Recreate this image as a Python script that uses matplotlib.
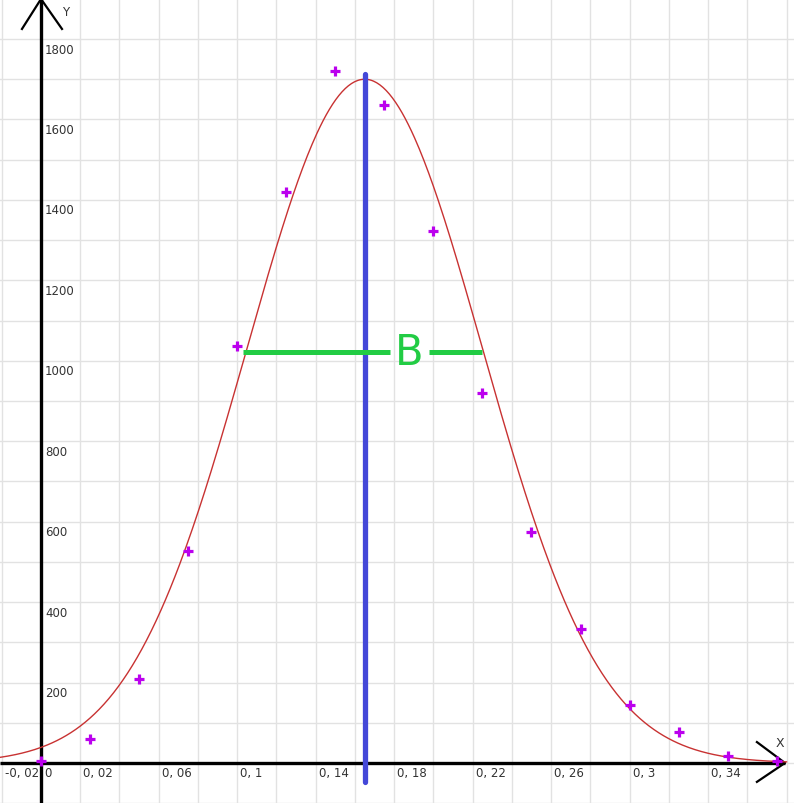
import numpy as np
import matplotlib
matplotlib.use("Agg")
import matplotlib.pyplot as plt
import matplotlib.transforms as mtransforms

# ---- data ----
x_points = [0.0, 0.025, 0.05, 0.075, 0.1, 0.125, 0.15, 0.175, 0.2, 0.225,
            0.25, 0.275, 0.3, 0.325, 0.35, 0.375]
y_points = [5, 60, 209, 526, 1037, 1419, 1720, 1636, 1323, 919,
            574, 333, 144, 76, 18, 6]

# fitted gaussian curve parameters
amp = 1700
mu = 0.165
sigma = 0.060

# width marker "B"
b_level = 1022
b_left = 0.103
b_right = 0.2248
b_gap = (0.178, 0.1978)
b_label = "B"

# center line
center_x = 0.165
center_top = 1712
center_bottom = -47

x_tick_values = [-0.02, 0.0, 0.02, 0.06, 0.1, 0.14, 0.18, 0.22, 0.26, 0.3, 0.34]
x_tick_labels = ["-0, 02", "0", "0, 02", "0, 06", "0, 1", "0, 14", "0, 18",
                 "0, 22", "0, 26", "0, 3", "0, 34"]
y_tick_values = [200, 400, 600, 800, 1000, 1200, 1400, 1600, 1800]
y_tick_labels = ["200", "400", "600", "800", "1000", "1200", "1400", "1600", "1800"]

xlim = (-0.0209, 0.3838)
ylim = (-99.5, 1899.5)

fig = plt.figure(figsize=(7.94, 8.04), dpi=100)
ax = fig.add_axes([0, 0, 1, 1])
ax.set_xlim(*xlim)
ax.set_ylim(*ylim)
ax.axis("off")

# grid
for gx in np.arange(-0.02, 0.39, 0.02):
    ax.axvline(gx, color="#e2e2e2", lw=1.0, zorder=0)
for gy in np.arange(-100, 1901, 100):
    ax.axhline(gy, color="#e2e2e2", lw=1.0, zorder=0)

# axes lines
ax.plot([xlim[0], 0.3792], [0, 0], color="black", lw=2.4, zorder=3, solid_capstyle="butt")
ax.plot([0, 0], [ylim[0], ylim[1]], color="black", lw=2.4, zorder=3)
# arrowheads
ax.plot([-0.0097, 0, 0.0107], [1825, ylim[1], 1825], color="black", lw=1.6, zorder=3)
ax.plot([0.3649, 0.3792, 0.3649], [52, 0, -47], color="black", lw=1.6, zorder=3)
ax.text(0.0105, 1868, "Y", fontsize=8.5, color="#333333", ha="left", va="center")
ax.text(0.3745, 52, "X", fontsize=9, color="#333333", ha="left", va="center")

# tick labels
xoff = mtransforms.offset_copy(ax.transData, fig=fig, x=3, y=-10, units="dots")
for v, lab in zip(x_tick_values, x_tick_labels):
    ax.text(v, 0, lab, transform=xoff, fontsize=8.5, color="#333333",
            ha="left", va="center")
yoff = mtransforms.offset_copy(ax.transData, fig=fig, x=4, y=-10, units="dots")
for v, lab in zip(y_tick_values, y_tick_labels):
    ax.text(0, v, lab, transform=yoff, fontsize=8.5, color="#333333",
            ha="left", va="center")

# gaussian curve
xc = np.linspace(xlim[0], 0.38, 500)
yc = amp * np.exp(-((xc - mu) ** 2) / (2 * sigma ** 2))
ax.plot(xc, yc, color="#c83232", lw=1.0, zorder=4)

# center blue line
ax.plot([center_x, center_x], [center_bottom, center_top], color="#4448d8",
        lw=3.8, zorder=5, solid_capstyle="round")

# B width line
ax.plot([b_left, b_gap[0]], [b_level, b_level], color="#22cc44", lw=3.6, zorder=6,
        solid_capstyle="butt")
ax.plot([b_gap[1], b_right], [b_level, b_level], color="#22cc44", lw=3.6, zorder=6,
        solid_capstyle="butt")
ax.text((b_gap[0] + b_gap[1]) / 2, b_level, b_label, color="#22cc44", fontsize=30,
        ha="center", va="center", zorder=6)

# data points
ax.plot(x_points, y_points, linestyle="none", marker="+", markersize=7.5,
        markeredgewidth=2.3, color="#bb00ee", zorder=7)

fig.savefig("out.png", dpi=100)
